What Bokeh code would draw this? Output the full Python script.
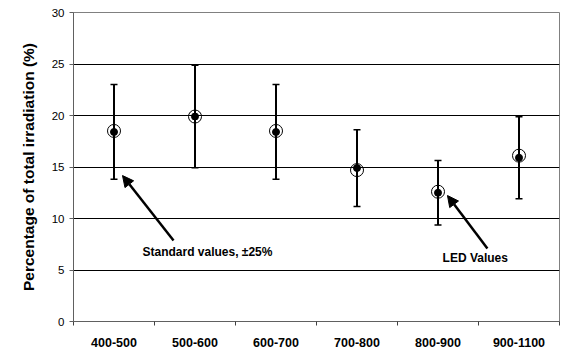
from bokeh.plotting import figure
from bokeh.models import (ColumnDataSource, FixedTicker, Whisker, TeeHead, Arrow,
                          NormalHead, Label, Range1d)
from bokeh.embed import file_html
from bokeh.resources import INLINE

categories = ["400-500", "500-600", "600-700", "700-800", "800-900", "900-1100"]
standard = [18.4, 19.9, 18.4, 14.9, 12.5, 15.9]
led = [18.5, 19.9, 18.5, 14.7, 12.6, 16.1]
tolerance = 0.25
y_ticks = [0, 5, 10, 15, 20, 25, 30]

xpos = [i + 0.5 for i in range(len(categories))]
src = ColumnDataSource(dict(
    x=xpos, std=standard, led=led,
    lower=[v * (1 - tolerance) for v in standard],
    upper=[v * (1 + tolerance) for v in standard],
))

FONT = "Liberation Sans"

p = figure(width=560, height=350, output_backend="svg", toolbar_location=None,
           x_range=Range1d(0, len(categories)), y_range=Range1d(0, 30),
           min_border_left=73, min_border_right=1, min_border_top=12, min_border_bottom=29)

p.outline_line_color = "#808080"
p.background_fill_color = "white"
p.border_fill_color = "white"

# y axis
p.yaxis.ticker = FixedTicker(ticks=y_ticks)
p.yaxis.axis_label = "Percentage of total irradiation (%)"
p.yaxis.axis_label_text_font = FONT
p.yaxis.axis_label_text_font_style = "bold"
p.yaxis.axis_label_text_font_size = "15.5px"
p.yaxis.axis_label_text_color = "black"
p.yaxis.axis_label_standoff = 12
p.yaxis.major_label_text_font = FONT
p.yaxis.major_label_text_font_size = "11.5px"
p.yaxis.major_label_text_color = "black"
p.yaxis.major_label_standoff = 5
p.yaxis.axis_line_color = "#606060"
p.yaxis.major_tick_line_color = "#606060"
p.yaxis.major_tick_in = 0
p.yaxis.major_tick_out = 4
p.yaxis.minor_tick_line_color = None

# x axis: labels at centers, tick marks at boundaries
p.xaxis.ticker = FixedTicker(ticks=xpos, minor_ticks=list(range(len(categories) + 1)))
p.xaxis.major_label_overrides = {x: c for x, c in zip(xpos, categories)}
p.xaxis.major_label_text_font = FONT
p.xaxis.major_label_text_font_style = "bold"
p.xaxis.major_label_text_font_size = "12.5px"
p.xaxis.major_label_text_color = "black"
p.xaxis.major_label_standoff = 10
p.xaxis.major_tick_line_color = None
p.xaxis.minor_tick_line_color = "#404040"
p.xaxis.minor_tick_in = 0
p.xaxis.minor_tick_out = 4
p.xaxis.axis_line_color = "#606060"

p.xgrid.grid_line_color = None
p.ygrid.grid_line_color = "black"
p.ygrid.grid_line_width = 1

# error bars
w = Whisker(source=src, base="x", lower="lower", upper="upper",
            line_color="black", line_width=2,
            upper_head=TeeHead(size=7, line_color="black", line_width=1.5),
            lower_head=TeeHead(size=7, line_color="black", line_width=1.5))
p.add_layout(w)

p.scatter("x", "led", source=src, size=13, fill_color="white", fill_alpha=0,
          line_color="black", line_width=1)
p.scatter("x", "std", source=src, size=7, fill_color="black", line_color="black")

# annotations
arrow1 = dict(x_start=1.235, y_start=7.86, x_end=0.605, y_end=14.17)
arrow2 = dict(x_start=5.11, y_start=7.09, x_end=4.617, y_end=12.23)
for a in (arrow1, arrow2):
    p.add_layout(Arrow(end=NormalHead(size=11, fill_color="black", line_color="black"),
                       line_width=2.5, line_color="black", **a))

p.add_layout(Label(x=1.654, y=6.7, text="Standard values, \u00b125%", text_font=FONT,
                   text_font_style="bold", text_font_size="12px", text_color="black",
                   text_align="center", text_baseline="middle"))
p.add_layout(Label(x=4.96, y=6.2, text="LED Values", text_font=FONT,
                   text_font_style="bold", text_font_size="12px", text_color="black",
                   text_align="center", text_baseline="middle"))

open("out.html", "w").write(file_html(p, INLINE))
